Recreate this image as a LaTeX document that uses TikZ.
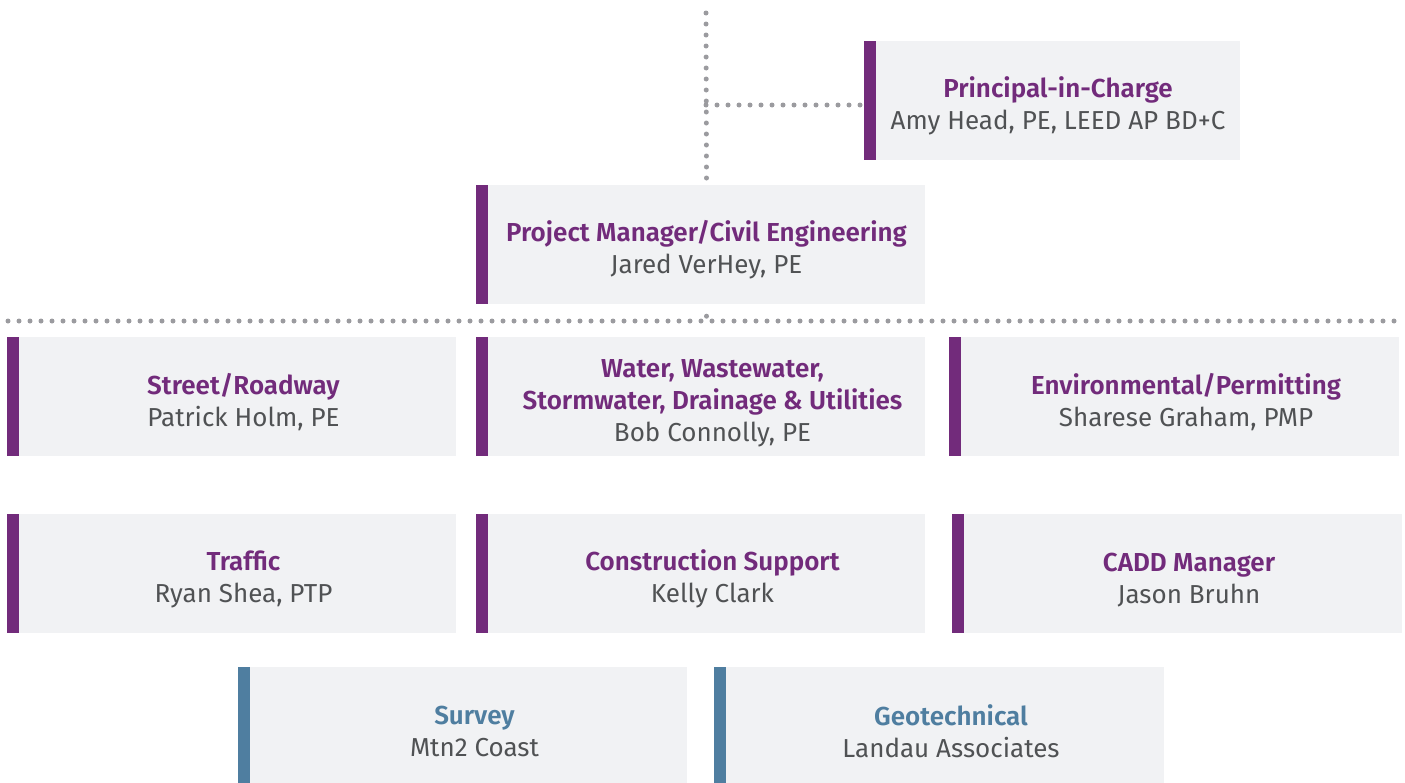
\documentclass[tikz,border=0pt]{standalone}
\usepackage{fontspec}
\setmainfont{Fira Sans}[BoldFont={Fira Sans SemiBold}]
\usepackage{xcolor}
\usetikzlibrary{calc}

\definecolor{plum}{HTML}{722B7B}
\definecolor{steel}{HTML}{4F7EA0}
\definecolor{boxgray}{HTML}{F1F2F4}
\definecolor{namegray}{HTML}{505254}
\definecolor{dotgray}{HTML}{9B9B9F}

% first-line strut, pushes the text a little below the middle
\newcommand{\lift}{\rule{0pt}{32pt}}

\begin{document}
\begin{tikzpicture}[
	x=1pt, y=-1pt,
	box/.style={fill=boxgray, minimum width=437pt, minimum height=119pt, inner sep=0pt,
		align=center, text=namegray, font=\fontsize{26}{32}\selectfont},
	team/.style={box, minimum width=425pt},
	dots/.style={dotgray, line width=5pt, line cap=round, dash pattern=on 0pt off 11pt}
	]
	\useasboundingbox (0,0) rectangle (1405,782);
	
	% Lead
	\node[box, minimum width=364pt] (principal) at (1058, 100.5) {\lift\textcolor{plum}{\bfseries Principal-in-Charge}\\Amy Head, PE, LEED AP BD+C};
	\node[box] (pm) at (706.5, 244.5) {\lift\textcolor{plum}{\bfseries Project Manager/Civil Engineering}\\Jared VerHey, PE};
	
	% Disciplines
	\node[team] (street) at (243.5, 396.5) {\lift\textcolor{plum}{\bfseries Street/Roadway}\\Patrick Holm, PE};
	\node[team] (water) at (712.5, 396.5) {\lift\textcolor{plum}{\bfseries Water, Wastewater,}\\\textcolor{plum}{\bfseries Stormwater, Drainage \& Utilities}\\Bob Connolly, PE};
	\node[team] (env) at (1186, 396.5) {\lift\textcolor{plum}{\bfseries Environmental/Permitting}\\Sharese Graham, PMP};
	\node[team] (traffic) at (243.5, 573.5) {\lift\textcolor{plum}{\bfseries Traffic}\\Ryan Shea, PTP};
	\node[team] (constr) at (712.5, 573.5) {\lift\textcolor{plum}{\bfseries Construction Support}\\Kelly Clark};
	\node[team] (cadd) at (1189, 573.5) {\lift\textcolor{plum}{\bfseries CADD Manager}\\Jason Bruhn};
	
	% Subconsultants
	\node[team, minimum height=128pt] (survey) at (474.5, 731) {\textcolor{steel}{\bfseries Survey}\\Mtn2 Coast};
	\node[team, minimum height=128pt] (geo) at (951, 731) {\textcolor{steel}{\bfseries Geotechnical}\\Landau Associates};
	
	% side bars (plus a grey strip on the team boxes)
	\foreach \n/\c/\s in {principal/plum/0, pm/plum/0, street/plum/12, water/plum/12, env/plum/12,
		traffic/plum/12, constr/plum/12, cadd/plum/12, survey/steel/12, geo/steel/12}
	{
		\fill[boxgray] ([xshift=-\s pt]\n.south west) rectangle ([xshift=2pt]\n.north west);
		\fill[\c] ([xshift={-(\s+12)*1pt}]\n.south west) rectangle ([xshift=-\s pt]\n.north west);
	}
	
	\coordinate (top) at (706, 13);
	\coordinate (jct) at (706, 105);
	\coordinate (busL) at (8, 321);
	\coordinate (busR) at (1400, 321);
	
	\draw[dots] (top) -- ($(pm.north) - (0, 6)$);
	\draw[dots] (jct) -- ($(principal.west |- jct) - (10, 0)$);
	\draw[dots] (busL) -- (busR);
	\draw[dots] ($(pm.south) + (0, 12)$) -- (pm.south |- busL);
\end{tikzpicture}
\end{document}
